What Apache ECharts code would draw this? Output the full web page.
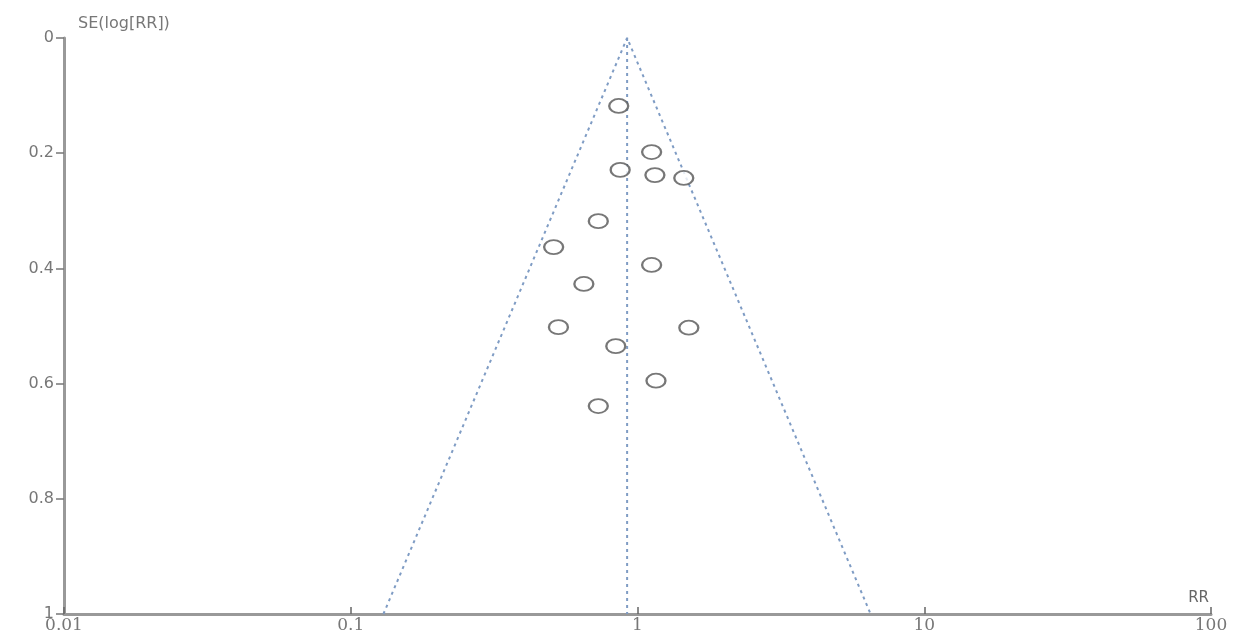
<!DOCTYPE html>
<html lang="en">
<head>
    <meta charset="UTF-8">
    <title>Funnel plot</title>
    <style>
        html, body { margin: 0; padding: 0; background: #fff; }
        #main { width: 1244px; height: 642px; }
    </style>
    <script src="https://cdn.jsdelivr.net/npm/echarts@6/dist/echarts.min.js"></script>
</head>
<body>
<div id="main"></div>
<script type="text/javascript">
    // study points: RR and SE(log[RR])
    var studyRR = [0.86, 1.12, 0.87, 1.15, 1.45, 0.73, 0.51, 1.12, 0.65, 0.53, 1.51, 0.84, 1.16, 0.73];
    var studySE = [0.118, 0.198, 0.229, 0.238, 0.243, 0.318, 0.363, 0.394, 0.427, 0.502, 0.503, 0.535, 0.595, 0.639];

    // funnel: pooled estimate and the limits read at SE = 1
    var pooledRR = 0.92;
    var lowerAtBottom = 0.13;
    var upperAtBottom = 6.5;

    var xTicks = [0.01, 0.1, 1, 10, 100];
    var yTicks = [0, 0.2, 0.4, 0.6, 0.8, 1];

    var points = studyRR.map(function (rr, i) { return [rr, studySE[i]]; });
    var lineStyle = { color: '#7f9cc4', width: 2, type: [3, 4] };

    var myChart = echarts.init(document.getElementById('main'));
    var option = {
        animation: false,
        grid: { left: 64, right: 33, top: 38, bottom: 28 },
        xAxis: {
            type: 'log',
            logBase: 10,
            position: 'bottom',
            min: xTicks[0],
            max: xTicks[xTicks.length - 1],
            name: 'RR',
            nameLocation: 'end',
            nameGap: 0,
            nameTextStyle: { color: '#666', fontSize: 15, fontFamily: 'DejaVu Sans', align: 'right', verticalAlign: 'bottom', padding: [0, 2, 8, 0] },
            axisLine: { onZero: false, lineStyle: { color: '#999', width: 3 } },
            axisTick: { inside: true, length: 7, lineStyle: { color: '#666', width: 1.5 } },
            axisLabel: { color: '#777', fontSize: 17, fontFamily: 'DejaVu Serif', margin: 3 },
            splitLine: { show: false }
        },
        yAxis: {
            type: 'value',
            inverse: true,
            min: yTicks[0],
            max: yTicks[yTicks.length - 1],
            interval: 0.2,
            name: 'SE(log[RR])',
            nameLocation: 'start',
            nameGap: 0,
            nameTextStyle: { color: '#777', fontSize: 16, fontFamily: 'DejaVu Sans', align: 'left', verticalAlign: 'bottom', padding: [0, 0, 6, 14] },
            axisLine: { lineStyle: { color: '#999', width: 3 } },
            axisTick: { length: 8, lineStyle: { color: '#777', width: 1.5 } },
            axisLabel: { color: '#777', fontSize: 16, fontFamily: 'DejaVu Sans', margin: 10 },
            splitLine: { show: false }
        },
        series: [
            {
                type: 'line',
                data: [[pooledRR, 0], [pooledRR, 1]],
                symbol: 'none',
                lineStyle: lineStyle
            },
            {
                type: 'line',
                data: [[lowerAtBottom, 1], [pooledRR, 0], [upperAtBottom, 1]],
                symbol: 'none',
                lineStyle: lineStyle
            },
            {
                type: 'scatter',
                data: points,
                symbol: 'emptyCircle',
                symbolSize: [19, 14],
                z: 5,
                itemStyle: { color: '#555', borderColor: '#555', borderWidth: 1.6 }
            }
        ]
    };
    myChart.setOption(option);
</script>
</body>
</html>
